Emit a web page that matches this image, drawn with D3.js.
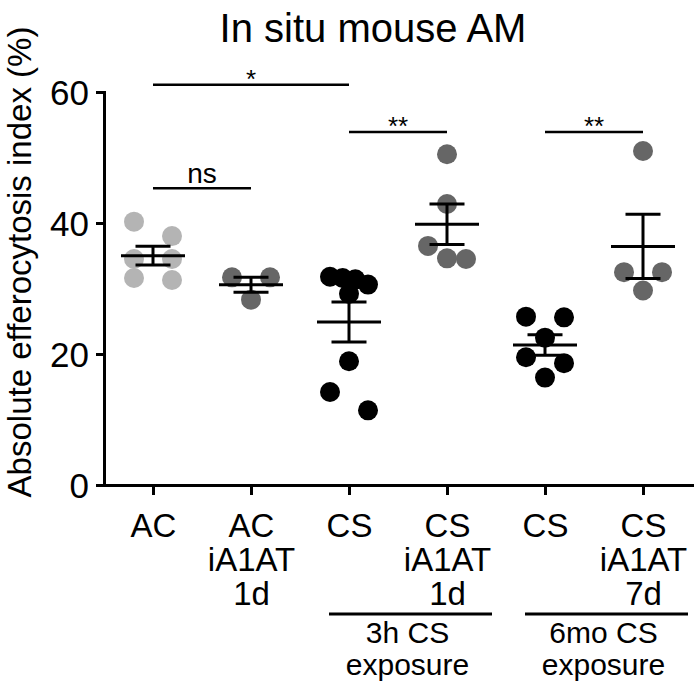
<!DOCTYPE html>
<html lang="en">
<head>
  <meta charset="UTF-8" />
  <title>In situ mouse AM</title>
  <script src="https://d3js.org/d3.v7.min.js"></script>
  <style>
    body {
      margin: 0;
      background: #ffffff;
      font-family: "Liberation Sans", Arial, sans-serif;
    }
    svg {
      display: block;
    }
    .axis path, .axis line {
      stroke: #000;
      stroke-width: 3;
    }
    .axis text {
      fill: #000;
      font-family: "Liberation Sans", Arial, sans-serif;
    }
  </style>
</head>
<body>
<svg id="chart"></svg>

<script>
const width = 698, height = 688;

// groups along the x axis
const groupKeys = ["AC", "AC_iA1AT_1d", "CS_3h", "CS_iA1AT_1d", "CS_6mo", "CS_iA1AT_7d"];
const groupLabels = [["AC"], ["AC", "iA1AT", "1d"], ["CS"], ["CS", "iA1AT", "1d"], ["CS"], ["CS", "iA1AT", "7d"]];
const groupColors = ["#b4b4b4", "#666666", "#000000", "#666666", "#000000", "#666666"];

// absolute efferocytosis index (%), one value per mouse
const acValues = [40.2, 38.0, 34.5, 34.5, 31.6, 31.3];
const acA1atValues = [31.7, 31.7, 28.3];
const cs3hValues = [31.8, 31.6, 31.4, 30.6, 29.2, 18.9, 14.2, 11.4];
const cs3hA1atValues = [50.5, 42.9, 36.5, 34.6, 34.5];
const cs6moValues = [25.7, 25.6, 22.5, 19.5, 18.6, 16.4];
const cs6moA1atValues = [51.0, 32.5, 32.5, 29.7];
const allValues = [acValues, acA1atValues, cs3hValues, cs3hA1atValues, cs6moValues, cs6moA1atValues];

const yTicks = [0, 20, 40, 60];

// significance bars
const sigFrom = [0, 0, 2, 4];
const sigTo = [2, 1, 3, 5];
const sigLevel = [61.1, 45.3, 53.9, 53.9];
const sigText = ["*", "ns", "**", "**"];

// exposure brackets under the axis
const bracketFrom = [2, 4];
const bracketTo = [3, 5];
const bracketText = [["3h CS", "exposure"], ["6mo CS", "exposure"]];

const svg = d3.select("#chart").attr("width", width).attr("height", height);

const x = d3.scalePoint().domain(groupKeys).range([104, 692]).padding(0.5);
const y = d3.scaleLinear().domain([0, 60]).range([485, 92]);

const r = 10;

// title
svg.append("text")
  .attr("x", 373).attr("y", 42)
  .attr("text-anchor", "middle")
  .attr("font-size", 40)
  .text("In situ mouse AM");

// y label
svg.append("text")
  .attr("transform", "translate(31,262) rotate(-90)")
  .attr("text-anchor", "middle")
  .attr("font-size", 33)
  .text("Absolute efferocytosis index (%)");

// axes
const yAxis = svg.append("g")
  .attr("class", "axis")
  .attr("transform", "translate(104,0)")
  .call(d3.axisLeft(y).tickValues(yTicks).tickSize(8).tickSizeOuter(0).tickPadding(7));
yAxis.selectAll("text").attr("font-size", 35).attr("dy", "0.36em");
yAxis.select(".domain").attr("stroke-linecap", "square");

const xAxis = svg.append("g")
  .attr("class", "axis")
  .attr("transform", "translate(0,485)")
  .call(d3.axisBottom(x).tickSize(10).tickSizeOuter(0));
xAxis.select(".domain").attr("stroke-linecap", "square");
xAxis.selectAll(".tick text").each(function(d) {
  const t = d3.select(this).text(null).attr("dy", null).attr("y", null).attr("font-size", 33);
  groupLabels[groupKeys.indexOf(d)].forEach((line, i) => {
    t.append("tspan").attr("x", 0).attr("y", 52 + i * 34).text(line);
  });
});

// dot layout: rows of near-equal values spread symmetrically
function layout(values) {
  const pts = values.map(v => ({ v })).sort((a, b) => b.v - a.v);
  const rows = [];
  pts.forEach(p => {
    const row = rows[rows.length - 1];
    const gap = row ? y(p.v) - y(row[0].v) : Infinity;
    const limit = row && row.length === 1 ? 1.9 * r : 1.5 * r;
    if (row && gap < limit) row.push(p); else rows.push([p]);
  });
  rows.forEach(row => {
    const s = d3.scalePoint().domain(d3.range(row.length)).range([-1.9 * r, 1.9 * r]);
    row.forEach((p, i) => { p.dx = s(i); });
  });
  return pts;
}

const groupsG = svg.append("g");
groupKeys.forEach((key, gi) => {
  const vals = allValues[gi];
  const cx = x(key);
  const g = groupsG.append("g");
  g.selectAll("circle")
    .data(layout(vals))
    .join("circle")
    .attr("cx", d => cx + d.dx)
    .attr("cy", d => y(d.v))
    .attr("r", r)
    .attr("fill", groupColors[gi]);

  const m = d3.mean(vals);
  const sem = d3.deviation(vals) / Math.sqrt(vals.length);
  const bars = g.append("g").attr("stroke", "#000").attr("stroke-width", 3);
  bars.append("line").attr("x1", cx - 32).attr("x2", cx + 32).attr("y1", y(m)).attr("y2", y(m));
  bars.append("line").attr("x1", cx).attr("x2", cx).attr("y1", y(m + sem)).attr("y2", y(m - sem));
  [m + sem, m - sem].forEach(v => {
    bars.append("line").attr("x1", cx - 17.5).attr("x2", cx + 17.5).attr("y1", y(v)).attr("y2", y(v));
  });
});

// significance
const sig = svg.append("g");
sigText.forEach((label, i) => {
  const x1 = x(groupKeys[sigFrom[i]]), x2 = x(groupKeys[sigTo[i]]);
  const ly = y(sigLevel[i]);
  sig.append("line")
    .attr("x1", x1).attr("x2", x2).attr("y1", ly).attr("y2", ly)
    .attr("stroke", "#000").attr("stroke-width", 2.5);
  const isStar = label.startsWith("*");
  sig.append("text")
    .attr("x", (x1 + x2) / 2)
    .attr("y", isStar ? ly + 3.5 : ly - 5)
    .attr("text-anchor", "middle")
    .attr("font-size", isStar ? 26 : 28)
    .text(label);
});

// exposure brackets
const br = svg.append("g");
bracketText.forEach((lines, i) => {
  const x1 = x(groupKeys[bracketFrom[i]]) - 20;
  const x2 = x(groupKeys[bracketTo[i]]) + 45;
  br.append("line")
    .attr("x1", x1).attr("x2", Math.min(x2, 692)).attr("y1", 614).attr("y2", 614)
    .attr("stroke", "#000").attr("stroke-width", 3);
  const t = br.append("text").attr("text-anchor", "middle").attr("font-size", 30);
  lines.forEach((line, j) => {
    t.append("tspan").attr("x", (x1 + x2) / 2 - 3).attr("y", 643 + j * 31.5).text(line);
  });
});
</script>
</body>
</html>
